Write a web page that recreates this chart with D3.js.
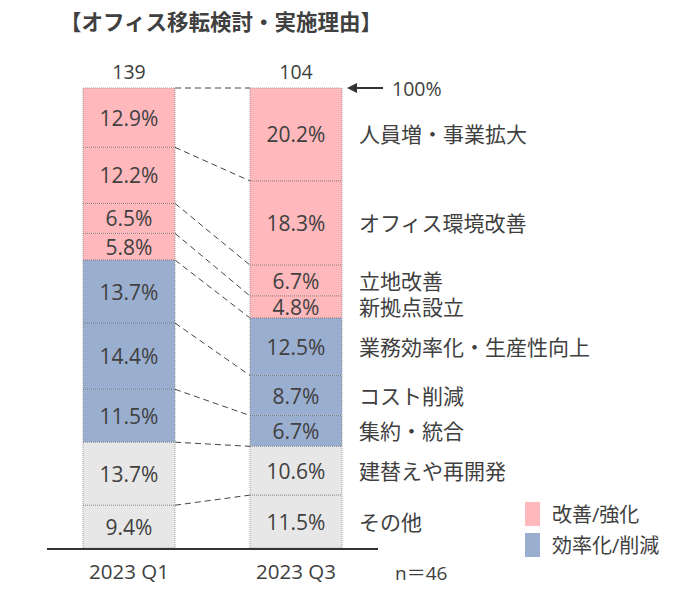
<!DOCTYPE html>
<html><head><meta charset="utf-8">
<script src="https://cdn.jsdelivr.net/npm/d3@7"></script>
<style>
html,body{margin:0;padding:0;background:#fff;}
text{font-family:"Open Sans","Noto Sans CJK JP",sans-serif;fill:#404040;}
</style></head>
<body>
<svg id="c" width="698" height="599"></svg>
<script>
const periods = ["2023 Q1", "2023 Q3"];
const counts = [139, 104];
const categories = ["人員増・事業拡大","オフィス環境改善","立地改善","新拠点設立","業務効率化・生産性向上","コスト削減","集約・統合","建替えや再開発","その他"];
const groups = ["pos","pos","pos","pos","eff","eff","eff","other","other"];
const q1Values = [12.9, 12.2, 6.5, 5.8, 13.7, 14.4, 11.5, 13.7, 9.4];
const q3Values = [20.2, 18.3, 6.7, 4.8, 12.5, 8.7, 6.7, 10.6, 11.5];
const legendLabels = ["改善/強化", "効率化/削減"];
const legendGroups = ["pos", "eff"];
const nLabel = "n＝46";
const topLabel = "100%";
const title = "【オフィス移転検討・実施理由】";

const colors = {pos:"#ffb8bc", eff:"#9aaecf", other:"#e7e7e7"};
const svg = d3.select("#c");

const x = d3.scaleBand().domain(periods).range([83, 342]).paddingInner(0.449).paddingOuter(0);
const y = d3.scaleLinear().domain([0, 100]).range([548, 88]);

const series = [q1Values, q3Values];
function stackTopDown(vals){
  let top = 100; const out = [];
  vals.forEach((v,i)=>{ out.push({cat:categories[i], g:groups[i], v, y1:top, y0:top-v}); top -= v; });
  out[out.length-1].y0 = 0;
  return out;
}
const stacks = series.map(stackTopDown);

// title
svg.append("text").attr("x", 60).attr("y", 30).attr("font-size", 21.5).attr("font-weight", 700)
  .attr("fill", "#383838").text(title);

// connectors
const conn = svg.append("g");
for (let i = 0; i < categories.length; i++) {
  conn.append("line")
    .attr("x1", x(periods[0]) + x.bandwidth()).attr("y1", y(stacks[0][i].y1))
    .attr("x2", x(periods[1])).attr("y2", y(stacks[1][i].y1))
    .attr("stroke", "#444").attr("stroke-width", 1).attr("stroke-dasharray", "6,4");
}

// bars
periods.forEach((p, pi) => {
  const g = svg.append("g");
  g.selectAll("rect").data(stacks[pi]).join("rect")
    .attr("x", x(p)).attr("width", x.bandwidth())
    .attr("y", d => y(d.y1)).attr("height", d => y(d.y0) - y(d.y1))
    .attr("fill", d => colors[d.g]);
  g.selectAll("line.sep").data(stacks[pi].slice(1)).join("line").attr("class","sep")
    .attr("x1", x(p)).attr("x2", x(p) + x.bandwidth())
    .attr("y1", d => y(d.y1)).attr("y2", d => y(d.y1))
    .attr("stroke", "#666").attr("stroke-width", 0.8).attr("stroke-dasharray", "1,1");
  g.append("rect").attr("x", x(p)).attr("width", x.bandwidth()).attr("y", y(100)).attr("height", y(0)-y(100))
    .attr("fill", "none").attr("stroke", "#888").attr("stroke-width", 0.8).attr("stroke-dasharray","1,1");
  g.selectAll("text.v").data(stacks[pi]).join("text").attr("class","v")
    .attr("x", x(p) + x.bandwidth()/2).attr("y", d => y((d.y0 + d.y1)/2))
    .attr("text-anchor", "middle").attr("dominant-baseline", "central")
    .attr("font-size", 21).text(d => d.v.toFixed(1) + "%");
  g.append("text").attr("x", x(p) + x.bandwidth()/2).attr("y", y(100) - 17)
    .attr("text-anchor", "middle").attr("dominant-baseline", "central").attr("font-size", 19.5).text(counts[pi]);
});

// axis
const axis = svg.append("g").attr("transform", `translate(0,${y(0)})`)
  .call(d3.axisBottom(x).tickSize(0).tickPadding(16));
axis.select(".domain").remove();
axis.append("line").attr("x1", 47).attr("x2", 378).attr("y1", 1).attr("y2", 1).attr("stroke", "#333").attr("stroke-width", 2);
axis.selectAll(".tick text").attr("font-size", 20.5).attr("fill", "#404040")
  .style("font-family", '"Open Sans","Noto Sans CJK JP",sans-serif');

svg.append("text").attr("x", 395).attr("y", y(0) + 25).attr("dominant-baseline", "central")
  .attr("font-size", 19).text(nLabel);

// 100% arrow
svg.append("defs").append("marker").attr("id","ah").attr("viewBox","0 0 10 10").attr("refX",1).attr("refY",5)
  .attr("markerWidth",5).attr("markerHeight",5).attr("orient","auto-start-reverse")
  .append("path").attr("d","M0,0L10,5L0,10z").attr("fill","#333");
svg.append("line").attr("x1", 383).attr("x2", 356).attr("y1", y(100)).attr("y2", y(100))
  .attr("stroke", "#333").attr("stroke-width", 2).attr("marker-end", "url(#ah)");
svg.append("text").attr("x", 392).attr("y", y(100)).attr("dominant-baseline", "central")
  .attr("font-size", 19.5).text(topLabel);

// right labels
svg.selectAll("text.cat").data(stacks[1]).join("text").attr("class","cat")
  .attr("x", 359).attr("y", d => y((d.y0 + d.y1)/2))
  .attr("dominant-baseline", "central").attr("font-size", 21).text(d => d.cat);

// legend
legendLabels.forEach((l, i) => {
  svg.append("rect").attr("x", 525).attr("y", 502 + i*31).attr("width", 15).attr("height", 24)
    .attr("fill", colors[legendGroups[i]]);
  svg.append("text").attr("x", 552).attr("y", 514 + i*31).attr("dominant-baseline", "central")
    .attr("font-size", 20).text(l);
});
</script>
</body></html>
